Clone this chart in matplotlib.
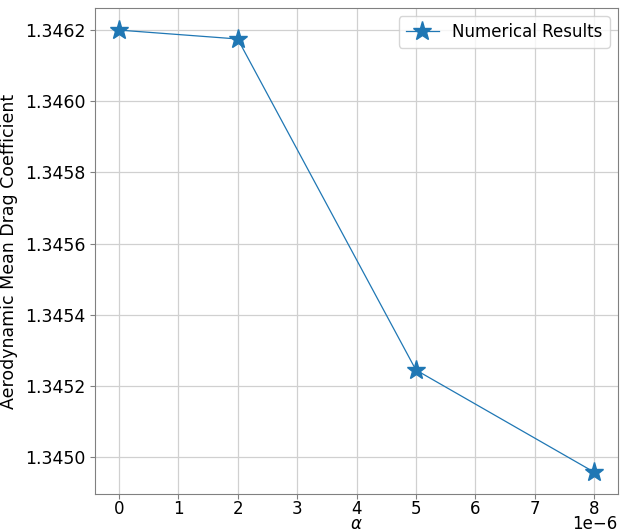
import matplotlib
matplotlib.use('Agg')
from matplotlib import pyplot as plt

alpha = [0.0, 2e-6, 5e-6, 8e-6]
drag = [1.34620, 1.346175, 1.345245, 1.344958]
offset_label = '1e\u22126'

fig, ax = plt.subplots(figsize=(6.26, 5.32), dpi=100)
ax.plot(alpha, drag, '-*', color='#1f77b4', linewidth=0.9, markersize=14,
        label='Numerical Results')
ax.grid(True, color='#d0d0d0', linewidth=0.9)
for s in ax.spines.values():
    s.set_edgecolor('#808080')
ax.tick_params(labelsize=12.5, color='#808080')
ax.tick_params(axis='x', labelsize=12, pad=0.5)
# offset text drawn by hand so it fits inside the figure
ax.xaxis.get_offset_text().set_visible(False)
ax.text(1.0, -0.0615, offset_label, transform=ax.transAxes, ha='right',
        va='center', fontsize=12)
ax.set_xlabel(r'$\alpha$', fontsize=12, va='center')
ax.xaxis.set_label_coords(0.5, -0.0615)
ax.set_ylabel('Aerodynamic Mean Drag Coefficient', fontsize=12.5, labelpad=5)
ax.legend(loc='upper right', fontsize=12)
plt.subplots_adjust(left=0.152, right=0.987, top=0.985, bottom=0.071)
plt.savefig('out.png', dpi=100)
